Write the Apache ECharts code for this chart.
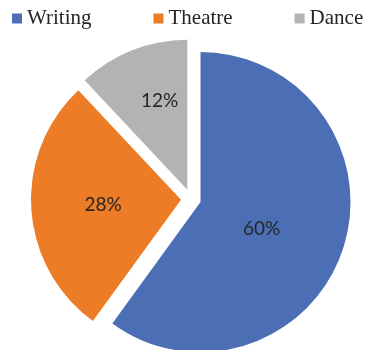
<!DOCTYPE html>
<html>
<head>
<meta charset="utf-8">
<script src="https://cdn.jsdelivr.net/npm/echarts@6/dist/echarts.min.js"></script>
<style>
  html, body { margin: 0; padding: 0; background: #ffffff; }
  #chart { width: 367px; height: 350px; }
</style>
</head>
<body>
<div id="chart"></div>
<script>
// Share of participants by discipline (percent)
const categories = ['Writing', 'Theatre', 'Dance'];
const shares = [60, 28, 12];
const sliceColors = ['#4b6eb4', '#ec7c26', '#b3b3b3'];

// Small nudges (dx, dy) for the in-slice percentage labels
const labelNudge = [[-13, 3], [0, 0], [1, -16]];

// Every slice is "selected" so the whole pie is drawn exploded
const pieData = categories.map((name, i) => ({
  name: name,
  value: shares[i],
  selected: true,
  itemStyle: { color: sliceColors[i] }
}));

const chart = echarts.init(document.getElementById('chart'), null, { renderer: 'canvas' });

chart.setOption({
  animation: false,
  backgroundColor: '#ffffff',
  legend: {
    data: categories,
    left: 12,
    top: 8,
    padding: 0,
    icon: 'rect',
    itemWidth: 10,
    itemHeight: 10,
    itemGap: 62,
    selectedMode: false,
    textStyle: {
      fontFamily: '"Liberation Serif", "DejaVu Serif", serif',
      fontSize: 21,
      color: '#262626'
    }
  },
  series: [{
    type: 'pie',
    center: [191, 199],
    radius: [0, 150],
    startAngle: 90,
    clockwise: true,
    selectedMode: 'multiple',
    selectedOffset: 10,
    avoidLabelOverlap: false,
    silent: true,
    data: pieData,
    itemStyle: { borderWidth: 0 },
    select: { itemStyle: { borderWidth: 0 } },
    emphasis: { disabled: true },
    label: {
      show: true,
      position: 'inside',
      formatter: p => p.value + '%',
      fontFamily: 'Lato, "Open Sans", sans-serif',
      fontSize: 19,
      color: '#262626'
    },
    labelLine: { show: false },
    labelLayout: p => ({ dx: labelNudge[p.dataIndex][0], dy: labelNudge[p.dataIndex][1] })
  }]
});
</script>
</body>
</html>
